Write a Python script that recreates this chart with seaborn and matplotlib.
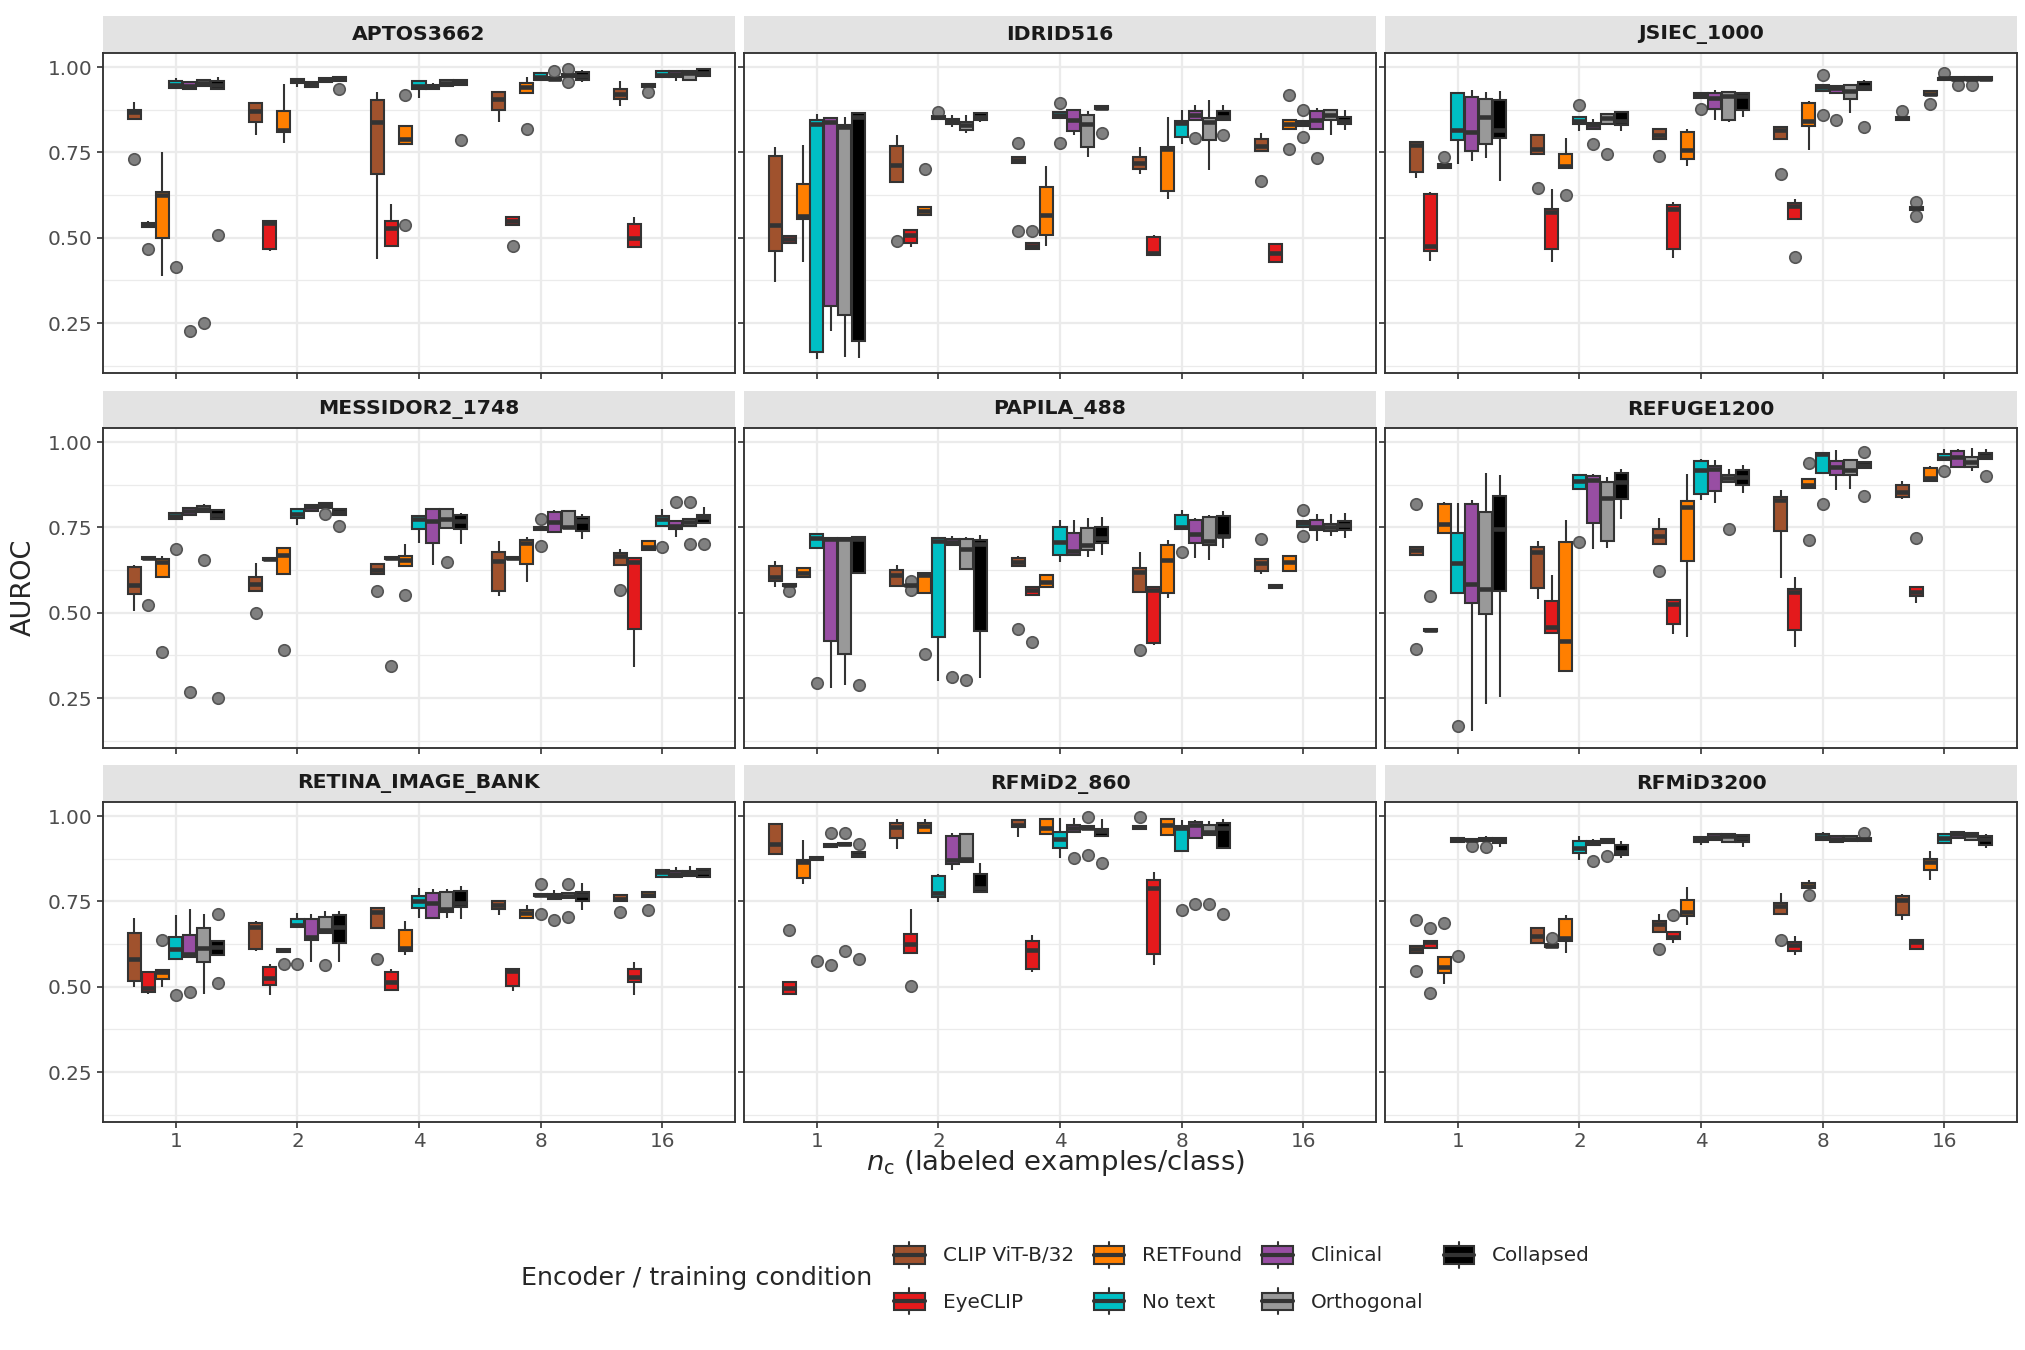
import pandas as pd
import matplotlib
matplotlib.use("Agg")
import matplotlib.pyplot as plt
import seaborn as sns
from matplotlib.patches import Rectangle, Patch
from matplotlib.lines import Line2D
from matplotlib.legend_handler import HandlerBase

# categories
ENCODERS = ["CLIP ViT-B/32", "EyeCLIP", "RETFound", "No text", "Clinical", "Orthogonal", "Collapsed"]
COLORS = ["#A0522D", "#E41A1C", "#FF7F00", "#00BFC4", "#984EA3", "#999999", "#000000"]
N_SHOTS = ["1", "2", "4", "8", "16"]
DATASETS = ["APTOS3662", "IDRID516", "JSIEC_1000", "MESSIDOR2_1748", "PAPILA_488",
            "REFUGE1200", "RETINA_IMAGE_BANK", "RFMiD2_860", "RFMiD3200"]

# AUROC over 5 runs, per encoder (rows, ENCODERS order) and per n_c (1, 2, 4, 8, 16)
APTOS = [
    [[0.73, 0.848, 0.867, 0.875, 0.897], [0.80, 0.84, 0.87, 0.895, 0.897], [0.438, 0.687, 0.839, 0.902, 0.926], [0.84, 0.875, 0.907, 0.928, 0.93], [0.886, 0.905, 0.92, 0.935, 0.96]],
    [[0.468, 0.532, 0.538, 0.543, 0.549], [0.461, 0.468, 0.543, 0.55, 0.552], [0.473, 0.475, 0.53, 0.55, 0.599], [0.476, 0.538, 0.55, 0.56, 0.562], [0.473, 0.474, 0.498, 0.54, 0.56]],
    [[0.387, 0.50, 0.625, 0.635, 0.752], [0.777, 0.809, 0.816, 0.872, 0.95], [0.537, 0.775, 0.789, 0.828, 0.918], [0.818, 0.925, 0.94, 0.952, 0.97], [0.928, 0.942, 0.946, 0.95, 0.952]],
    [[0.415, 0.938, 0.948, 0.96, 0.967], [0.94, 0.953, 0.96, 0.965, 0.967], [0.909, 0.935, 0.943, 0.958, 0.96], [0.96, 0.962, 0.97, 0.983, 0.985], [0.97, 0.971, 0.978, 0.988, 0.99]],
    [[0.226, 0.936, 0.945, 0.955, 0.96], [0.941, 0.942, 0.95, 0.957, 0.958], [0.934, 0.935, 0.94, 0.947, 0.953], [0.96, 0.962, 0.966, 0.972, 0.989], [0.96, 0.972, 0.98, 0.988, 0.99]],
    [[0.25, 0.943, 0.953, 0.962, 0.965], [0.952, 0.955, 0.962, 0.967, 0.97], [0.942, 0.943, 0.953, 0.962, 0.964], [0.955, 0.972, 0.976, 0.98, 0.995], [0.96, 0.962, 0.982, 0.989, 0.99]],
    [[0.507, 0.937, 0.948, 0.958, 0.97], [0.935, 0.958, 0.965, 0.97, 0.972], [0.785, 0.948, 0.955, 0.962, 0.966], [0.957, 0.963, 0.975, 0.985, 0.99], [0.97, 0.975, 0.983, 0.993, 0.995]],
]
IDRID = [
    [[0.37, 0.462, 0.536, 0.74, 0.766], [0.491, 0.662, 0.712, 0.77, 0.802], [0.519, 0.718, 0.728, 0.737, 0.777], [0.687, 0.701, 0.718, 0.737, 0.765], [0.667, 0.754, 0.768, 0.788, 0.807]],
    [[0.484, 0.485, 0.497, 0.505, 0.506], [0.472, 0.485, 0.507, 0.522, 0.523], [0.467, 0.468, 0.476, 0.486, 0.52], [0.448, 0.449, 0.455, 0.503, 0.508], [0.428, 0.429, 0.455, 0.481, 0.482]],
    [[0.429, 0.556, 0.565, 0.657, 0.772], [0.565, 0.566, 0.578, 0.59, 0.70], [0.475, 0.509, 0.567, 0.65, 0.709], [0.614, 0.638, 0.76, 0.766, 0.855], [0.761, 0.817, 0.834, 0.845, 0.917]],
    [[0.145, 0.165, 0.834, 0.844, 0.862], [0.845, 0.849, 0.853, 0.856, 0.869], [0.777, 0.852, 0.86, 0.868, 0.895], [0.775, 0.795, 0.835, 0.843, 0.873], [0.795, 0.827, 0.835, 0.842, 0.873]],
    [[0.226, 0.30, 0.84, 0.85, 0.851], [0.823, 0.834, 0.841, 0.848, 0.86], [0.802, 0.812, 0.844, 0.875, 0.876], [0.792, 0.845, 0.86, 0.871, 0.89], [0.735, 0.819, 0.844, 0.872, 0.88]],
    [[0.152, 0.274, 0.824, 0.831, 0.855], [0.808, 0.816, 0.83, 0.84, 0.86], [0.736, 0.766, 0.834, 0.86, 0.872], [0.697, 0.785, 0.84, 0.85, 0.902], [0.802, 0.845, 0.858, 0.874, 0.876]],
    [[0.148, 0.199, 0.855, 0.865, 0.868], [0.838, 0.846, 0.854, 0.866, 0.868], [0.807, 0.876, 0.881, 0.886, 0.888], [0.80, 0.844, 0.853, 0.87, 0.888], [0.816, 0.832, 0.841, 0.853, 0.875]],
]
JSIEC = [
    [[0.675, 0.692, 0.772, 0.781, 0.783], [0.645, 0.746, 0.76, 0.80, 0.801], [0.74, 0.79, 0.802, 0.818, 0.82], [0.688, 0.79, 0.816, 0.825, 0.828], [0.842, 0.845, 0.85, 0.854, 0.872]],
    [[0.431, 0.462, 0.477, 0.627, 0.634], [0.429, 0.468, 0.574, 0.584, 0.643], [0.442, 0.468, 0.584, 0.595, 0.604], [0.443, 0.556, 0.592, 0.603, 0.614], [0.565, 0.582, 0.586, 0.59, 0.605]],
    [[0.70, 0.704, 0.71, 0.715, 0.736], [0.626, 0.703, 0.71, 0.745, 0.792], [0.709, 0.73, 0.758, 0.81, 0.818], [0.756, 0.828, 0.841, 0.896, 0.90], [0.893, 0.918, 0.922, 0.931, 0.934]],
    [[0.716, 0.785, 0.816, 0.924, 0.925], [0.812, 0.834, 0.841, 0.854, 0.888], [0.877, 0.91, 0.917, 0.923, 0.925], [0.858, 0.93, 0.94, 0.947, 0.978], [0.96, 0.963, 0.967, 0.969, 0.982]],
    [[0.724, 0.753, 0.809, 0.913, 0.932], [0.775, 0.819, 0.83, 0.836, 0.848], [0.846, 0.877, 0.909, 0.923, 0.932], [0.845, 0.925, 0.938, 0.943, 0.945], [0.947, 0.962, 0.966, 0.97, 0.972]],
    [[0.733, 0.774, 0.855, 0.906, 0.926], [0.745, 0.834, 0.85, 0.862, 0.865], [0.838, 0.846, 0.915, 0.926, 0.927], [0.865, 0.905, 0.93, 0.947, 0.95], [0.947, 0.962, 0.966, 0.97, 0.972]],
    [[0.665, 0.792, 0.816, 0.902, 0.929], [0.812, 0.829, 0.842, 0.869, 0.87], [0.855, 0.875, 0.914, 0.923, 0.925], [0.825, 0.934, 0.941, 0.955, 0.963], [0.962, 0.963, 0.966, 0.97, 0.974]],
]
MESSIDOR = [
    [[0.504, 0.555, 0.581, 0.635, 0.641], [0.50, 0.565, 0.585, 0.604, 0.646], [0.563, 0.614, 0.626, 0.644, 0.646], [0.548, 0.563, 0.653, 0.679, 0.709], [0.568, 0.64, 0.665, 0.674, 0.687]],
    [[0.524, 0.657, 0.66, 0.662, 0.664], [0.654, 0.655, 0.658, 0.66, 0.662], [0.344, 0.657, 0.66, 0.663, 0.665], [0.655, 0.657, 0.66, 0.663, 0.665], [0.342, 0.452, 0.648, 0.66, 0.662]],
    [[0.386, 0.605, 0.648, 0.657, 0.665], [0.392, 0.614, 0.67, 0.69, 0.692], [0.551, 0.637, 0.655, 0.666, 0.70], [0.59, 0.642, 0.703, 0.712, 0.723], [0.68, 0.685, 0.694, 0.71, 0.712]],
    [[0.687, 0.774, 0.783, 0.792, 0.795], [0.758, 0.778, 0.788, 0.803, 0.806], [0.704, 0.746, 0.775, 0.782, 0.785], [0.695, 0.742, 0.749, 0.752, 0.775], [0.694, 0.753, 0.775, 0.782, 0.804]],
    [[0.269, 0.786, 0.797, 0.806, 0.811], [0.795, 0.797, 0.81, 0.816, 0.818], [0.64, 0.705, 0.77, 0.803, 0.805], [0.735, 0.737, 0.765, 0.795, 0.80], [0.721, 0.744, 0.755, 0.77, 0.824]],
    [[0.654, 0.795, 0.805, 0.813, 0.818], [0.788, 0.808, 0.815, 0.82, 0.823], [0.65, 0.747, 0.775, 0.805, 0.807], [0.748, 0.749, 0.752, 0.797, 0.80], [0.70, 0.753, 0.765, 0.776, 0.824]],
    [[0.249, 0.774, 0.787, 0.80, 0.803], [0.754, 0.786, 0.795, 0.805, 0.807], [0.70, 0.744, 0.77, 0.786, 0.792], [0.716, 0.74, 0.77, 0.78, 0.788], [0.70, 0.763, 0.78, 0.786, 0.811]],
]
PAPILA = [
    [[0.574, 0.594, 0.604, 0.637, 0.651], [0.578, 0.579, 0.61, 0.625, 0.641], [0.452, 0.636, 0.65, 0.661, 0.665], [0.392, 0.56, 0.62, 0.631, 0.679], [0.613, 0.623, 0.645, 0.657, 0.715]],
    [[0.565, 0.579, 0.582, 0.585, 0.587], [0.568, 0.578, 0.58, 0.582, 0.592], [0.413, 0.551, 0.567, 0.576, 0.578], [0.405, 0.41, 0.567, 0.575, 0.577], [0.572, 0.573, 0.577, 0.58, 0.582]],
    [[0.605, 0.606, 0.617, 0.63, 0.635], [0.38, 0.558, 0.61, 0.617, 0.62], [0.574, 0.575, 0.589, 0.61, 0.612], [0.543, 0.557, 0.655, 0.699, 0.713], [0.622, 0.623, 0.648, 0.666, 0.668]],
    [[0.293, 0.69, 0.72, 0.73, 0.732], [0.30, 0.43, 0.709, 0.718, 0.72], [0.648, 0.67, 0.706, 0.75, 0.772], [0.679, 0.745, 0.752, 0.785, 0.80], [0.724, 0.752, 0.762, 0.769, 0.80]],
    [[0.279, 0.418, 0.717, 0.72, 0.722], [0.312, 0.698, 0.708, 0.716, 0.726], [0.668, 0.67, 0.68, 0.735, 0.772], [0.66, 0.704, 0.731, 0.772, 0.778], [0.711, 0.743, 0.752, 0.772, 0.788]],
    [[0.289, 0.38, 0.717, 0.72, 0.722], [0.303, 0.629, 0.687, 0.716, 0.723], [0.664, 0.683, 0.697, 0.748, 0.777], [0.655, 0.697, 0.711, 0.78, 0.785], [0.726, 0.738, 0.75, 0.76, 0.79]],
    [[0.289, 0.616, 0.716, 0.722, 0.725], [0.308, 0.447, 0.70, 0.714, 0.729], [0.669, 0.705, 0.72, 0.75, 0.78], [0.69, 0.722, 0.726, 0.782, 0.797], [0.719, 0.743, 0.758, 0.768, 0.792]],
]
REFUGE = [
    [[0.393, 0.668, 0.684, 0.694, 0.817], [0.54, 0.572, 0.677, 0.692, 0.709], [0.623, 0.702, 0.726, 0.745, 0.777], [0.602, 0.739, 0.829, 0.839, 0.86], [0.832, 0.84, 0.853, 0.875, 0.887]],
    [[0.445, 0.446, 0.449, 0.452, 0.55], [0.439, 0.44, 0.457, 0.535, 0.612], [0.437, 0.467, 0.527, 0.537, 0.539], [0.40, 0.45, 0.56, 0.571, 0.604], [0.53, 0.548, 0.562, 0.575, 0.719]],
    [[0.733, 0.734, 0.76, 0.818, 0.824], [0.328, 0.329, 0.418, 0.706, 0.773], [0.428, 0.653, 0.811, 0.826, 0.905], [0.713, 0.864, 0.873, 0.891, 0.938], [0.886, 0.887, 0.894, 0.924, 0.93]],
    [[0.167, 0.558, 0.645, 0.735, 0.821], [0.706, 0.862, 0.887, 0.904, 0.906], [0.829, 0.848, 0.917, 0.943, 0.951], [0.819, 0.91, 0.965, 0.967, 0.97], [0.915, 0.947, 0.954, 0.965, 0.98]],
    [[0.154, 0.53, 0.584, 0.819, 0.829], [0.687, 0.763, 0.89, 0.901, 0.905], [0.821, 0.856, 0.922, 0.931, 0.946], [0.86, 0.902, 0.927, 0.945, 0.976], [0.925, 0.927, 0.955, 0.975, 0.98]],
    [[0.232, 0.496, 0.57, 0.795, 0.91], [0.69, 0.709, 0.837, 0.884, 0.897], [0.746, 0.884, 0.895, 0.904, 0.92], [0.863, 0.903, 0.917, 0.947, 0.95], [0.915, 0.928, 0.941, 0.955, 0.983]],
    [[0.253, 0.563, 0.746, 0.843, 0.902], [0.775, 0.834, 0.882, 0.908, 0.922], [0.85, 0.875, 0.898, 0.918, 0.934], [0.843, 0.923, 0.932, 0.94, 0.97], [0.90, 0.949, 0.958, 0.967, 0.98]],
]
RETINA = [
    [[0.499, 0.516, 0.582, 0.658, 0.702], [0.605, 0.61, 0.675, 0.688, 0.692], [0.58, 0.673, 0.72, 0.731, 0.733], [0.711, 0.728, 0.739, 0.751, 0.753], [0.718, 0.751, 0.758, 0.77, 0.772]],
    [[0.478, 0.485, 0.496, 0.542, 0.544], [0.477, 0.504, 0.525, 0.557, 0.568], [0.488, 0.49, 0.514, 0.542, 0.551], [0.487, 0.503, 0.545, 0.551, 0.556], [0.477, 0.513, 0.53, 0.552, 0.572]],
    [[0.499, 0.524, 0.543, 0.55, 0.638], [0.566, 0.603, 0.607, 0.612, 0.614], [0.592, 0.604, 0.614, 0.665, 0.693], [0.70, 0.701, 0.717, 0.726, 0.739], [0.726, 0.762, 0.769, 0.777, 0.78]],
    [[0.477, 0.58, 0.61, 0.646, 0.709], [0.566, 0.674, 0.682, 0.699, 0.717], [0.70, 0.73, 0.752, 0.767, 0.79], [0.714, 0.765, 0.768, 0.773, 0.80], [0.82, 0.821, 0.836, 0.843, 0.845]],
    [[0.486, 0.588, 0.597, 0.652, 0.729], [0.572, 0.637, 0.645, 0.697, 0.714], [0.70, 0.702, 0.744, 0.776, 0.785], [0.695, 0.757, 0.765, 0.772, 0.783], [0.821, 0.822, 0.83, 0.838, 0.851]],
    [[0.479, 0.573, 0.614, 0.671, 0.714], [0.565, 0.657, 0.665, 0.704, 0.721], [0.702, 0.72, 0.729, 0.777, 0.786], [0.703, 0.759, 0.766, 0.774, 0.80], [0.824, 0.825, 0.833, 0.84, 0.854]],
    [[0.512, 0.593, 0.615, 0.635, 0.714], [0.572, 0.627, 0.675, 0.71, 0.721], [0.697, 0.735, 0.744, 0.78, 0.795], [0.724, 0.751, 0.77, 0.777, 0.805], [0.821, 0.822, 0.836, 0.845, 0.848]],
]
RFMID2 = [
    [[0.887, 0.888, 0.917, 0.976, 0.98], [0.903, 0.935, 0.968, 0.98, 0.99], [0.939, 0.967, 0.975, 0.987, 0.99], [0.962, 0.963, 0.967, 0.972, 0.998], None],
    [[0.475, 0.478, 0.496, 0.513, 0.665], [0.501, 0.60, 0.626, 0.655, 0.729], [0.543, 0.552, 0.607, 0.635, 0.653], [0.563, 0.597, 0.788, 0.812, 0.835], None],
    [[0.80, 0.819, 0.866, 0.872, 0.93], [0.948, 0.949, 0.972, 0.98, 0.99], [0.945, 0.946, 0.964, 0.992, 0.994], [0.943, 0.944, 0.974, 0.99, 0.995], None],
    [[0.574, 0.871, 0.876, 0.879, 0.882], [0.749, 0.762, 0.776, 0.824, 0.829], [0.876, 0.906, 0.934, 0.953, 0.995], [0.724, 0.897, 0.964, 0.971, 0.988], None],
    [[0.565, 0.91, 0.914, 0.918, 0.951], [0.841, 0.859, 0.871, 0.941, 0.949], [0.876, 0.952, 0.965, 0.973, 0.995], [0.741, 0.935, 0.975, 0.982, 0.988], None],
    [[0.606, 0.914, 0.918, 0.921, 0.951], [0.862, 0.864, 0.873, 0.948, 0.951], [0.886, 0.962, 0.966, 0.97, 0.998], [0.742, 0.943, 0.954, 0.975, 0.985], None],
    [[0.581, 0.88, 0.887, 0.894, 0.918], [0.775, 0.777, 0.788, 0.831, 0.861], [0.861, 0.94, 0.957, 0.963, 0.991], [0.714, 0.906, 0.965, 0.979, 0.99], None],
]
RFMID3 = [
    [[0.545, 0.598, 0.612, 0.62, 0.695], [0.627, 0.629, 0.65, 0.672, 0.674], [0.61, 0.661, 0.683, 0.693, 0.714], [0.638, 0.713, 0.736, 0.745, 0.776], [0.695, 0.71, 0.753, 0.767, 0.771]],
    [[0.481, 0.614, 0.632, 0.635, 0.672], [0.614, 0.616, 0.62, 0.624, 0.642], [0.627, 0.639, 0.646, 0.659, 0.711], [0.594, 0.606, 0.623, 0.632, 0.649], [0.609, 0.61, 0.631, 0.638, 0.64]],
    [[0.507, 0.541, 0.558, 0.588, 0.688], [0.60, 0.634, 0.643, 0.697, 0.711], [0.682, 0.708, 0.72, 0.755, 0.793], [0.768, 0.79, 0.795, 0.803, 0.812], [0.812, 0.843, 0.864, 0.873, 0.897]],
    [[0.589, 0.925, 0.93, 0.935, 0.937], [0.871, 0.891, 0.905, 0.926, 0.94], [0.915, 0.925, 0.932, 0.938, 0.94], [0.929, 0.93, 0.939, 0.948, 0.954], [0.919, 0.92, 0.936, 0.946, 0.948]],
    [[0.912, 0.926, 0.93, 0.934, 0.936], [0.869, 0.915, 0.921, 0.926, 0.932], [0.928, 0.93, 0.938, 0.946, 0.948], [0.924, 0.925, 0.933, 0.942, 0.944], [0.934, 0.936, 0.947, 0.953, 0.955]],
    [[0.908, 0.927, 0.932, 0.937, 0.94], [0.883, 0.922, 0.927, 0.933, 0.937], [0.924, 0.925, 0.94, 0.946, 0.948], [0.925, 0.927, 0.933, 0.942, 0.944], [0.928, 0.93, 0.944, 0.95, 0.952]],
    [[0.91, 0.92, 0.929, 0.936, 0.937], [0.876, 0.886, 0.894, 0.914, 0.928], [0.908, 0.923, 0.935, 0.943, 0.945], [0.925, 0.928, 0.932, 0.935, 0.949], [0.905, 0.915, 0.934, 0.941, 0.946]],
]
TABLES = [APTOS, IDRID, JSIEC, MESSIDOR, PAPILA, REFUGE, RETINA, RFMID2, RFMID3]

EDGE = "#333333"

# long-form table
rows = []
for name, table in zip(DATASETS, TABLES):
    for enc, per_n in zip(ENCODERS, table):
        for n, scores in zip(N_SHOTS, per_n):
            if scores is None:
                continue
            for s in scores:
                rows.append((name, n, enc, s))
df = pd.DataFrame(rows, columns=["dataset", "n_c", "encoder", "auroc"])


class BoxKey(HandlerBase):
    # ggplot-like boxplot legend key
    def create_artists(self, legend, orig_handle, xdescent, ydescent, width, height, fontsize, trans):
        x0, y0 = -xdescent, -ydescent
        cx = x0 + width / 2
        whisk = Line2D([cx, cx], [y0, y0 + height], color=EDGE, lw=1.0, transform=trans)
        box = Rectangle((x0, y0 + 0.16 * height), width, 0.68 * height,
                        facecolor=orig_handle.get_facecolor(), edgecolor=EDGE, lw=1.0, transform=trans)
        med = Line2D([x0, x0 + width], [y0 + height / 2] * 2, color=EDGE, lw=2.0, transform=trans)
        return [whisk, box, med]


sns.set_style("white")
plt.rcParams["font.family"] = ["DejaVu Sans"]

fig = plt.figure(figsize=(13.5, 9), dpi=150)
lefts = [103 / 2025, 744 / 2025, 1385 / 2025]
bottoms = [1 - 373 / 1350, 1 - 748 / 1350, 1 - 1122 / 1350]
pw, ph = 632 / 2025, 320 / 1350
strip_h = 0.115

palette = dict(zip(ENCODERS, COLORS))
for i, name in enumerate(DATASETS):
    r, c = divmod(i, 3)
    ax = fig.add_axes([lefts[c], bottoms[r], pw, ph])
    sns.boxplot(
        data=df[df["dataset"] == name], x="n_c", y="auroc", hue="encoder",
        order=N_SHOTS, hue_order=ENCODERS, palette=palette, saturation=1,
        width=0.8, gap=0.06, linecolor=EDGE, linewidth=1.0, whis=1.5,
        showcaps=False, legend=False, ax=ax,
        medianprops={"linewidth": 2.2},
        flierprops={"marker": "o", "markersize": 5.5, "markerfacecolor": "#808080",
                    "markeredgecolor": "#555555", "markeredgewidth": 0.8},
    )
    ax.set_xlim(-0.6, 4.6)
    ax.set_ylim(0.104, 1.041)
    ax.set_yticks([0.25, 0.50, 0.75, 1.00])
    ax.set_yticks([0.125, 0.375, 0.625, 0.875], minor=True)
    ax.set_xticks(range(5))
    ax.set_axisbelow(True)
    ax.grid(True, which="major", axis="both", color="#EBEBEB", lw=1.1)
    ax.grid(True, which="minor", axis="y", color="#EBEBEB", lw=0.6)
    ax.set_xlabel("")
    ax.set_ylabel("")
    for sp in ax.spines.values():
        sp.set_visible(True)
        sp.set_color(EDGE)
        sp.set_linewidth(0.9)
    ax.tick_params(axis="both", which="major", length=3, width=0.8, color=EDGE,
                   labelsize=9.6, labelcolor="#4D4D4D", pad=2, left=True, bottom=True)
    ax.tick_params(axis="y", which="minor", length=0)
    if c == 0:
        ax.set_yticklabels(["0.25", "0.50", "0.75", "1.00"])
    else:
        ax.set_yticklabels([])
    if r == 2:
        ax.set_xticklabels(N_SHOTS)
    else:
        ax.set_xticklabels([])
    # facet strip
    ax.add_patch(Rectangle((0, 1), 1, strip_h, transform=ax.transAxes, clip_on=False,
                           facecolor="#E3E3E3", edgecolor="none"))
    ax.text(0.5, 1 + strip_h / 2, name, transform=ax.transAxes, ha="center", va="center",
            fontsize=9.8, fontweight="bold", color="#1A1A1A")

fig.text(0.0119, 0.565, "AUROC", rotation=90, ha="center", va="center", fontsize=13)
fig.text(0.521, 0.1385, r"$n_{\mathrm{c}}$ (labeled examples/class)", ha="center", va="center", fontsize=13.2)

handles = [Patch(facecolor=col, label=enc) for enc, col in zip(ENCODERS, COLORS)]
fig.text(0.2575, 0.0533, "Encoder / training condition", ha="left", va="center", fontsize=12.2)
fig.legend(handles=handles, labels=ENCODERS, handler_map={Patch: BoxKey()},
           loc="center left", bbox_to_anchor=(0.4415, 0.0533), ncol=4, frameon=False,
           fontsize=9.6, handlelength=1.53, handleheight=1.6, handletextpad=0.9,
           columnspacing=1.0, labelspacing=1.04, borderpad=0, borderaxespad=0)

fig.savefig("out.png", dpi=150, facecolor="white")
